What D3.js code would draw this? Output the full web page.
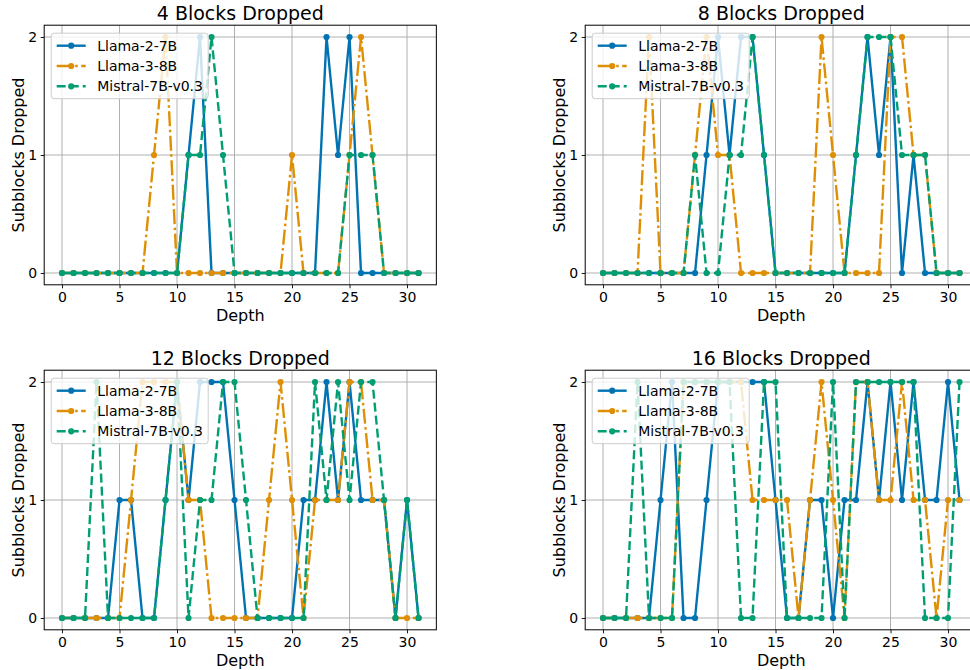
<!DOCTYPE html>
<html>
<head>
<meta charset="utf-8">
<script src="https://cdn.jsdelivr.net/npm/d3@7"></script>
<style>
  html, body { margin: 0; padding: 0; background: #ffffff; }
  svg { display: block; font-family: "DejaVu Sans", sans-serif; }
</style>
</head>
<body>
<svg id="chart" width="970" height="670"></svg>
<script>
// ---------------- data ----------------
const depth = [0,1,2,3,4,5,6,7,8,9,10,11,12,13,14,15,16,17,18,19,20,21,22,23,24,25,26,27,28,29,30,31];
const seriesNames = ["Llama-2-7B", "Llama-3-8B", "Mistral-7B-v0.3"];
const panelTitles = ["4 Blocks Dropped", "8 Blocks Dropped", "12 Blocks Dropped", "16 Blocks Dropped"];
const xTicks = [0, 5, 10, 15, 20, 25, 30];
const yTicks = [0, 1, 2];

const llama2_4   = [0,0,0,0,0,0,0,0,0,0,0,1,2,0,0,0,0,0,0,0,0,0,0,2,1,2,0,0,0,0,0,0];
const llama3_4   = [0,0,0,0,0,0,0,0,1,2,0,0,0,0,0,0,0,0,0,0,1,0,0,0,0,1,2,1,0,0,0,0];
const mistral_4  = [0,0,0,0,0,0,0,0,0,0,0,1,1,2,1,0,0,0,0,0,0,0,0,0,0,1,1,1,0,0,0,0];

const llama2_8   = [0,0,0,0,0,0,0,0,0,1,2,1,2,2,1,0,0,0,0,0,0,0,1,2,1,2,0,1,0,0,0,0];
const llama3_8   = [0,0,0,0,2,0,0,0,1,2,1,1,0,0,0,0,0,0,0,2,1,0,0,0,0,2,2,1,1,0,0,0];
const mistral_8  = [0,0,0,0,0,0,0,0,1,0,0,1,1,2,1,0,0,0,0,0,0,0,1,2,2,2,1,1,1,0,0,0];

const llama2_12  = [0,0,0,0,0,1,1,0,0,1,2,1,2,2,2,1,0,0,0,0,0,1,1,2,1,2,1,1,1,0,1,0];
const llama3_12  = [0,0,0,0,0,0,1,2,2,2,2,1,1,0,0,0,0,0,1,2,1,0,1,1,1,2,2,1,1,0,0,0];
const mistral_12 = [0,0,0,2,0,0,0,0,0,1,2,0,1,1,2,2,1,0,0,0,0,0,2,1,2,1,2,2,1,0,1,0];

const llama2_16  = [0,0,0,0,0,1,2,0,0,1,2,2,2,2,2,1,0,0,1,1,0,1,1,2,1,2,1,2,1,1,2,1];
const llama3_16  = [0,0,0,0,0,0,0,2,2,2,2,2,2,1,1,1,1,0,1,2,1,0,2,2,1,1,2,1,1,0,1,1];
const mistral_16 = [0,0,0,2,0,0,0,2,2,2,2,2,0,0,2,2,0,0,0,0,2,0,2,2,2,2,2,2,0,0,0,2];

const panelData = [
  [llama2_4, llama3_4, mistral_4],
  [llama2_8, llama3_8, mistral_8],
  [llama2_12, llama3_12, mistral_12],
  [llama2_16, llama3_16, mistral_16]
];

// ---------------- styles ----------------
const colors = ["#0173b2", "#de8f05", "#029e73"];
const dashes = [null, "15,3.5,2.5,3.5", "9,4"];
const lineW = 2.4;
const markerR = 3.1;

const svg = d3.select("#chart");
const pw = 392.15, ph = 259.6;
const origins = [[44.2, 25.2], [585.2, 25.2], [44.2, 370.2], [585.2, 370.2]];

panelData.forEach((series, pi) => {
  const [left, top] = origins[pi];
  const x = d3.scaleLinear().domain([-1.55, 32.55]).range([left, left + pw]);
  const y = d3.scaleLinear().domain([-0.1, 2.1]).range([top + ph, top]);

  const g = svg.append("g");

  const clipId = "clip" + pi;
  svg.append("clipPath").attr("id", clipId)
    .append("rect").attr("x", left).attr("y", top).attr("width", pw).attr("height", ph);

  // grid
  const grid = g.append("g");
  grid.selectAll("line.gx").data(xTicks).join("line")
    .attr("class", "gx")
    .attr("x1", d => x(d)).attr("x2", d => x(d))
    .attr("y1", top).attr("y2", top + ph)
    .attr("stroke", "#b0b0b0").attr("stroke-width", 1);
  grid.selectAll("line.gy").data(yTicks).join("line")
    .attr("class", "gy")
    .attr("x1", left).attr("x2", left + pw)
    .attr("y1", d => y(d)).attr("y2", d => y(d))
    .attr("stroke", "#b0b0b0").attr("stroke-width", 1);

  // lines
  const plot = g.append("g").attr("clip-path", `url(#${clipId})`);
  series.forEach((vals, si) => {
    const pts = depth.map((d, i) => [d, vals[i]]);
    const line = d3.line().x(p => x(p[0])).y(p => y(p[1]));
    plot.append("path").datum(pts)
      .attr("d", line)
      .attr("fill", "none")
      .attr("stroke", colors[si])
      .attr("stroke-width", lineW)
      .attr("stroke-linejoin", "round")
      .attr("stroke-dasharray", dashes[si]);
    plot.selectAll(null).data(pts).join("circle")
      .attr("cx", p => x(p[0])).attr("cy", p => y(p[1]))
      .attr("r", markerR).attr("fill", colors[si]);
  });

  // axes
  const xAxis = d3.axisBottom(x).tickValues(xTicks).tickFormat(d3.format("d")).tickSize(3.5).tickPadding(3.5);
  const yAxis = d3.axisLeft(y).tickValues(yTicks).tickFormat(d3.format("d")).tickSize(3.5).tickPadding(3.5);
  const gx = g.append("g").attr("transform", `translate(0,${top + ph})`).call(xAxis);
  const gy = g.append("g").attr("transform", `translate(${left},0)`).call(yAxis);
  [gx, gy].forEach(a => {
    a.select(".domain").remove();
    a.selectAll(".tick line").attr("stroke", "#000").attr("stroke-width", 0.9);
    a.selectAll(".tick text").attr("font-size", 14).attr("fill", "#000")
      .attr("font-family", "DejaVu Sans, sans-serif");
  });

  // spines
  g.append("rect").attr("x", left).attr("y", top).attr("width", pw).attr("height", ph)
    .attr("fill", "none").attr("stroke", "#000").attr("stroke-width", 1);

  // title & labels
  g.append("text").attr("x", left + pw / 2).attr("y", top - 5)
    .attr("text-anchor", "middle").attr("font-size", 19).attr("fill", "#000")
    .text(panelTitles[pi]);
  g.append("text").attr("x", left + pw / 2).attr("y", top + ph + 36)
    .attr("text-anchor", "middle").attr("font-size", 16).attr("fill", "#000")
    .text("Depth");
  g.append("text")
    .attr("transform", `translate(${left - 20},${top + ph / 2}) rotate(-90)`)
    .attr("text-anchor", "middle").attr("font-size", 16).attr("fill", "#000")
    .text("Subblocks Dropped");

  // legend
  const lg = g.append("g").attr("transform", `translate(${left + 7},${top + 8})`);
  lg.append("rect").attr("x", 0).attr("y", 0).attr("width", 157).attr("height", 65.5)
    .attr("rx", 3).attr("ry", 3)
    .attr("fill", "#ffffff").attr("fill-opacity", 0.8)
    .attr("stroke", "#cccccc").attr("stroke-width", 1);
  seriesNames.forEach((name, si) => {
    const yy = 12.5 + si * 20.3;
    lg.append("line").attr("x1", 5.5).attr("x2", 34.5).attr("y1", yy).attr("y2", yy)
      .attr("stroke", colors[si]).attr("stroke-width", lineW)
      .attr("stroke-dasharray", dashes[si]);
    lg.append("circle").attr("cx", 20).attr("cy", yy).attr("r", markerR).attr("fill", colors[si]);
    lg.append("text").attr("x", 46).attr("y", yy + 5).attr("font-size", 14).attr("fill", "#000")
      .text(name);
  });
});
</script>
</body>
</html>
